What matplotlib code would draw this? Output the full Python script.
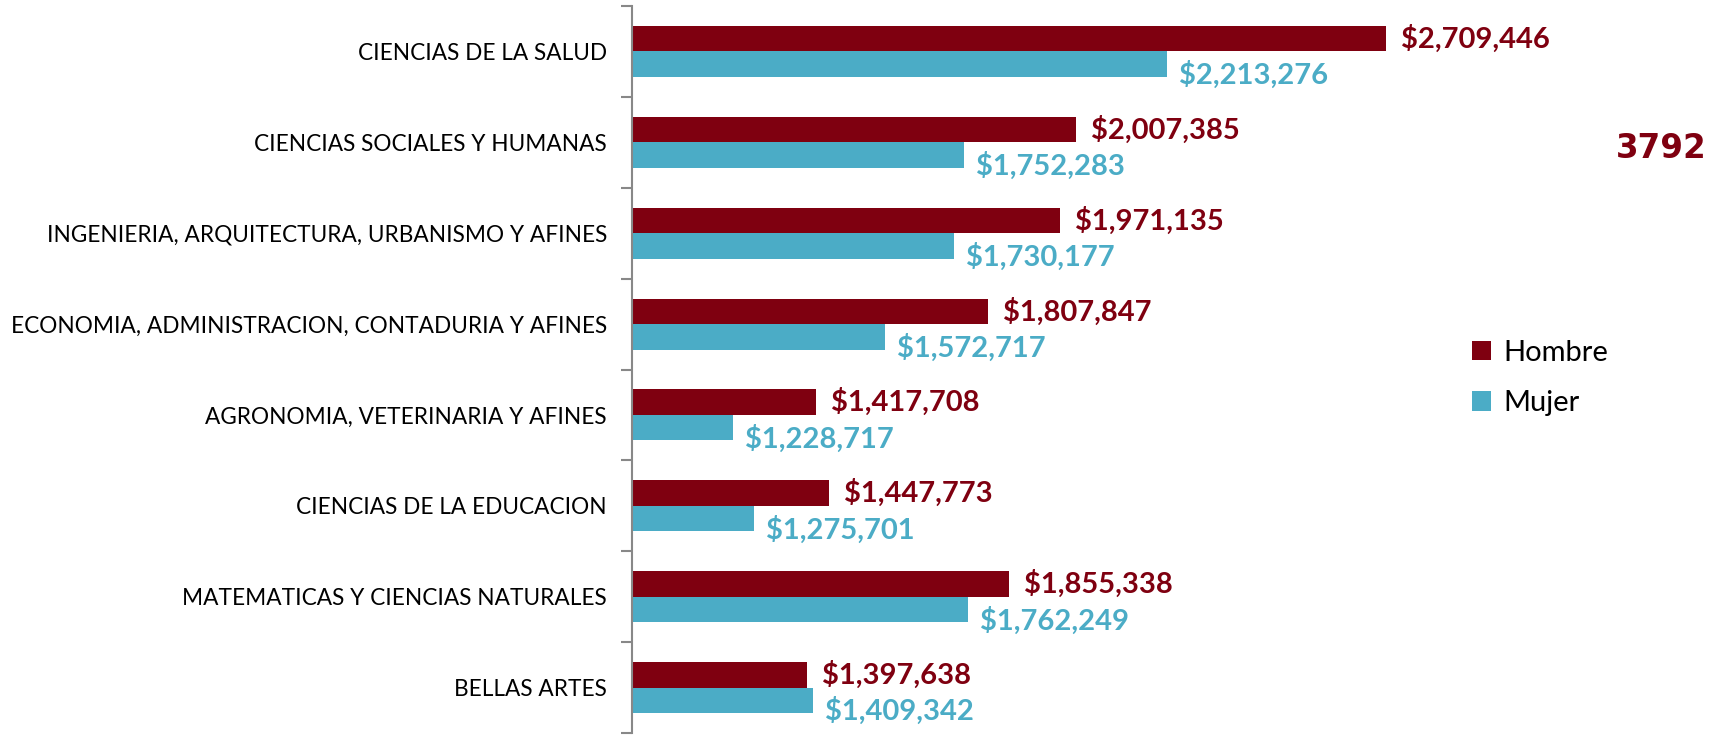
import matplotlib
matplotlib.use("Agg")
import matplotlib.pyplot as plt
import numpy as np

categories = [
    "CIENCIAS DE LA SALUD",
    "CIENCIAS SOCIALES Y HUMANAS",
    "INGENIERIA, ARQUITECTURA, URBANISMO Y AFINES",
    "ECONOMIA, ADMINISTRACION, CONTADURIA Y AFINES",
    "AGRONOMIA, VETERINARIA Y AFINES",
    "CIENCIAS DE LA EDUCACION",
    "MATEMATICAS Y CIENCIAS NATURALES",
    "BELLAS ARTES",
]
hombre = [2709446, 2007385, 1971135, 1807847, 1417708, 1447773, 1855338, 1397638]
mujer = [2213276, 1752283, 1730177, 1572717, 1228717, 1275701, 1762249, 1409342]
annotation = "3792"

c_h = "#7F0010"
c_m = "#4BACC6"

plt.rcParams['font.family'] = ['Lato', 'DejaVu Sans']

fig = plt.figure(figsize=(17.23, 7.35), dpi=100)
ax = fig.add_axes([632/1723, 2/735, 1 - 632/1723, 727/735])

n = len(categories)
y = np.arange(n)
bh = 0.28
xmin = 1_000_000
ax.barh(y - bh/2, np.array(hombre) - xmin, left=xmin, height=bh, color=c_h, label="Hombre")
ax.barh(y + bh/2, np.array(mujer) - xmin, left=xmin, height=bh, color=c_m, label="Mujer")

ax.set_xlim(xmin, 3_474_000)
ax.set_ylim(n - 0.5, -0.5)

off = 34000
for i in range(n):
    ax.text(hombre[i] + off, y[i] - bh/2, f"${hombre[i]:,}", color=c_h,
            fontsize=21, fontweight='bold', va='center', ha='left')
    ax.text(mujer[i] + off * 0.8, y[i] + bh/2 + 0.12, f"${mujer[i]:,}", color=c_m,
            fontsize=21, fontweight='bold', va='center', ha='left')

ax.set_yticks(np.arange(n + 1) - 0.5)
ax.set_yticklabels([])
ax.tick_params(axis='y', which='major', length=8, color='#888888', width=1.5, direction='out')
ax.set_yticks(y, minor=True)
ax.set_yticklabels(categories, minor=True, fontsize=16.3)
ax.tick_params(axis='y', which='minor', length=0, pad=18)

ax.set_xticks([])
for s in ['top', 'right', 'bottom']:
    ax.spines[s].set_visible(False)
ax.spines['left'].set_color('#888888')
ax.spines['left'].set_linewidth(1.5)

leg = fig.legend(loc='center left', bbox_to_anchor=(1446/1723, 1 - 378/735), frameon=False,
                 fontsize=21, handlelength=0.65, handleheight=0.65, handletextpad=0.4,
                 labelspacing=0.85)

fig.text(1707/1723, 1 - 148/735, annotation, color=c_h, fontsize=23.5, fontweight='bold',
         family='DejaVu Sans', ha='right', va='center')

fig.savefig("out.png", dpi=100)
